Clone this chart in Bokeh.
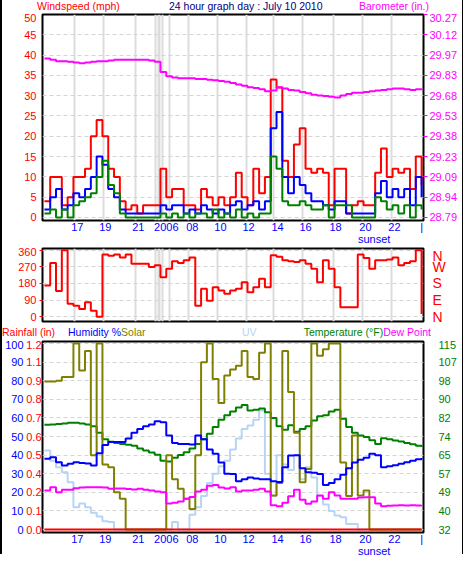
from bokeh.plotting import figure
from bokeh.models import Range1d, LinearAxis, FixedTicker, PrintfTickFormatter, Div
from bokeh.layouts import column, row
from bokeh.embed import file_html
from bokeh.resources import INLINE

# ---------------- data (one reading per time slot) ----------------
slot = list(range(66))

hour_ticks = [5.67, 10.5, 16.17, 21.0, 25.5, 30.33, 35.17, 40.17, 45.0, 50.17, 55.33, 60.33, 65.0]
hour_labels = ["17", "19", "21", "2006", "08", "10", "12", "14", "16", "18", "20", "22", "|"]
gridline_slots = [5.17, 10.17, 15.67, 19.17, 19.67, 19.83, 20.33, 21.5, 24.83, 29.83, 34.83,
                  39.5, 44.5, 49.83, 54.83, 59.83]
sunset_slot = 56.83

wind_gust = [4, 10, 10, 3, 5, 10, 10, 12, 20, 24,
             20, 12, 10, 4, 2, 3, 1, 3, 3, 3,
             12, 5, 7, 7, 3, 3, 2, 7, 5, 3,
             5, 3, 5, 11, 5, 3, 12, 6, 10, 34,
             32, 14, 10, 18, 22, 12, 11, 12, 11, 3,
             12, 12, 1, 3, 4, 3, 3, 11, 17, 10,
             12, 11, 12, 7, 15, 8]
wind_avg = [2, 5, 7, 2, 3, 6, 5, 7, 10, 15,
            13, 7, 5, 2, 1, 1, 1, 1, 1, 1,
            3, 2, 3, 3, 1, 2, 1, 3, 2, 1,
            2, 1, 3, 4, 2, 3, 4, 2, 4, 22,
            26, 10, 6, 10, 8, 6, 4, 4, 3, 2,
            4, 4, 1, 1, 1, 1, 1, 6, 9, 5,
            7, 5, 7, 3, 10, 5]
wind_low = [1, 2, 0, 2, 0, 3, 4, 5, 6, 10,
            14, 8, 6, 1, 0, 0, 0, 0, 0, 0,
            1, 0, 1, 0, 1, 0, 1, 1, 0, 2,
            0, 1, 0, 2, 0, 1, 0, 1, 1, 15,
            12, 4, 3, 3, 4, 3, 2, 2, 3, 0,
            3, 3, 3, 0, 0, 0, 0, 5, 4, 2,
            3, 1, 3, 0, 3, 2]
baro_in = [29.95, 29.94, 29.93, 29.93, 29.925, 29.92, 29.915, 29.92, 29.925, 29.93,
           29.93, 29.935, 29.94, 29.94, 29.94, 29.94, 29.94, 29.94, 29.935, 29.925,
           29.85, 29.82, 29.81, 29.805, 29.805, 29.805, 29.80, 29.80, 29.795, 29.79,
           29.785, 29.78, 29.77, 29.76, 29.75, 29.74, 29.735, 29.725, 29.71, 29.715,
           29.74, 29.73, 29.72, 29.715, 29.705, 29.695, 29.685, 29.68, 29.675, 29.67,
           29.665, 29.68, 29.69, 29.70, 29.70, 29.705, 29.71, 29.715, 29.72, 29.725,
           29.73, 29.73, 29.725, 29.72, 29.725, 29.73]
wind_dir = [169, 290, 140, 360, 70, 60, 42, 78, 33, 0,
            336, 330, 336, 320, 336, 287, 287, 287, 269, 278,
            214, 260, 300, 290, 305, 320, 60, 151, 87, 160,
            142, 124, 142, 151, 187, 133, 160, 205, 160, 333,
            324, 305, 300, 296, 305, 287, 260, 187, 305, 260,
            160, 51, 51, 51, 336, 318, 260, 305, 305, 310,
            320, 278, 290, 300, 360, 15]
temp_f = [78.7, 78.9, 79.1, 79.3, 79.6, 79.6, 79.3, 78.9, 78.1, 75.2,
          72.3, 71.2, 70.6, 70.2, 69.8, 69.4, 68.2, 67.3, 66.4, 65.4,
          62.7, 62.3, 64.0, 65.2, 66.5, 68.1, 70.2, 72.3, 74.7, 77.7,
          81.0, 83.0, 84.7, 86.4, 87.6, 85.1, 85.5, 86.0, 84.3, 81.8,
          78.1, 76.5, 78.5, 75.6, 76.8, 78.1, 80.6, 82.5, 83.0, 84.7,
          85.5, 81.4, 77.7, 75.2, 73.9, 73.3, 71.8, 70.2, 72.7, 72.3,
          71.7, 71.3, 70.6, 70.0, 69.4, 68.8]
dew_f = [49.4, 50.9, 48.6, 49.8, 49.8, 50.4, 50.7, 50.9, 50.9, 50.9,
         50.7, 50.2, 50.3, 50.3, 50.1, 49.9, 50.2, 49.8, 49.4, 49.0,
         48.6, 43.6, 44.0, 44.5, 45.7, 46.5, 49.0, 49.8, 51.5, 51.9,
         50.7, 50.3, 50.9, 49.0, 49.4, 49.4, 49.8, 50.2, 49.0, 42.8,
         42.4, 44.0, 46.9, 49.8, 45.3, 43.5, 44.5, 47.2, 45.7, 48.6,
         47.2, 45.7, 45.7, 45.7, 46.3, 46.4, 46.4, 43.6, 42.4, 42.6,
         42.7, 42.8, 42.7, 42.8, 42.7, 42.8]
humidity = [38, 38.9, 36.2, 34.4, 35.3, 36.2, 35.8, 35.5, 34.4, 41,
            45.5, 47, 47, 47, 49, 52, 54, 55.5, 56.5, 58.2,
            57.7, 50.5, 46.5, 46, 46, 45.7, 50.5, 48.5, 43, 40.7,
            36, 30, 29.9, 26, 27, 28, 27.5, 27, 27, 26,
            25.5, 33.5, 39.8, 40, 33, 30.8, 30.5, 29.9, 24, 25,
            27, 29.5, 33, 36, 37.5, 38.6, 40.7, 40, 33.5, 34,
            34.6, 35.4, 36.2, 37, 37.8, 38.4]
solar_wm2 = [796, 796, 800, 820, 820, 1000, 855, 960, 400, 1000,
             350, 335, 200, 165, 0, 0, 0, 0, 0, 0,
             0, 400, 270, 219, 165, 110, 400, 900, 1000, 810,
             680, 828, 860, 880, 960, 820, 810, 950, 1000, 183,
             250, 960, 740, 520, 254, 326, 1000, 935, 970, 1000,
             1000, 360, 180, 505, 183, 210, 0, 0, 0, 0,
             0, 0, 0, 0, 0, 0]
uv_index = [4.25, 3.7, 3.35, 3.08, 2.54, 1.2, 1.4, 1.2, 0.9, 0.7,
            0.45, 0.4, 0, 0, 0, 0, 0, 0, 0, 0,
            0, 0, 0.4, 0, 0, 0.8, 1.2, 1.8, 2.5, 3.0,
            3.4, 3.7, 4.3, 4.9, 5.4, 5.6, 5.9, 6.4, 3.0, 1.8,
            4.0, 3.5, 3.2, 4.0, 2.7, 3.35, 2.8, 1.8, 1.35, 1.0,
            0.75, 0.66, 0.3, 0.3, 0, 0, 0, 0, 0, 0,
            0, 0, 0, 0, 0, 0]
rain_in = [0.0, 0.0, 0.0, 0.0, 0.0, 0.0, 0.0, 0.0, 0.0, 0.0,
           0.0, 0.0, 0.0, 0.0, 0.0, 0.0, 0.0, 0.0, 0.0, 0.0,
           0.0, 0.0, 0.0, 0.0, 0.0, 0.0, 0.0, 0.0, 0.0, 0.0,
           0.0, 0.0, 0.0, 0.0, 0.0, 0.0, 0.0, 0.0, 0.0, 0.0,
           0.0, 0.0, 0.0, 0.0, 0.0, 0.0, 0.0, 0.0, 0.0, 0.0,
           0.0, 0.0, 0.0, 0.0, 0.0, 0.0, 0.0, 0.0, 0.0, 0.0,
           0.0, 0.0, 0.0, 0.0, 0.0, 0.0]

wind_ticks = [0, 5, 10, 15, 20, 25, 30, 35, 40, 45, 50]
baro_ticks = [28.79, 28.938, 29.086, 29.234, 29.382, 29.53, 29.678, 29.826, 29.974, 30.122, 30.27]
dir_ticks = [0, 90, 180, 270, 360]
dir_labels = ["N", "E", "S", "W", "N"]
hum_ticks = [0, 10, 20, 30, 40, 50, 60, 70, 80, 90, 100]
rain_ticks = [0.0, 0.12, 0.24, 0.36, 0.48, 0.6, 0.72, 0.84, 0.96, 1.08, 1.2]
rain_labels = ["0.0", "0.1", "0.2", "0.4", "0.5", "0.6", "0.7", "0.8", "0.9", "1.1", "1.2"]
temp_ticks = [32, 40.3, 48.6, 56.9, 65.2, 73.5, 81.8, 90.1, 98.4, 106.7, 115]

# ---------------- styling ----------------
FONT = "Liberation Sans"
RED = "#ff0000"
BLUE = "#0000ff"
GREEN = "#008000"
MAGENTA = "#ff00ff"
OLIVE = "#808000"
LIGHTBLUE = "#b8d4f4"
NAVY = "#000080"
GRID = "#dcdcdc"
FRAME_W = 381
BORDER_L = 35
BORDER_R = 39
INNER_W = BORDER_L + FRAME_W + BORDER_R


def base_fig(frame_h, top, bottom, y_range, vgrid=True):
    p = figure(frame_width=FRAME_W, frame_height=frame_h,
               min_border_left=BORDER_L, min_border_right=BORDER_R,
               min_border_top=top, min_border_bottom=bottom,
               x_range=Range1d(-0.33, 65.33), y_range=y_range,
               x_axis_location=None, y_axis_location=None,
               output_backend="svg", toolbar_location=None,
               background_fill_color="white", border_fill_color="white")
    p.outline_line_color = "black"
    p.outline_line_width = 2
    if vgrid:
        p.xgrid.ticker = FixedTicker(ticks=gridline_slots)
        p.xgrid.grid_line_color = GRID
        p.xgrid.grid_line_width = 2
    else:
        p.xgrid.grid_line_color = None
    p.ygrid.grid_line_color = "#d4d4d4"
    p.ygrid.grid_line_dash = "4 3"
    return p


def style_axis(ax, color, standoff, size="11px", tick_color=None, tick_out=0):
    ax.axis_line_color = None
    ax.minor_tick_line_color = None
    ax.minor_tick_out = 0
    ax.minor_tick_in = 0
    ax.major_tick_in = 0
    ax.major_tick_out = tick_out
    ax.major_tick_line_color = tick_color
    ax.major_label_text_color = color
    ax.major_label_text_font = FONT
    ax.major_label_text_font_size = size
    ax.major_label_standoff = standoff


def add_time_axes(p):
    ax = LinearAxis(ticker=FixedTicker(ticks=hour_ticks),
                    major_label_overrides=dict(zip(hour_ticks, hour_labels)))
    style_axis(ax, BLUE, 0)
    p.add_layout(ax, "below")
    ax = LinearAxis(ticker=FixedTicker(ticks=[sunset_slot]),
                    major_label_overrides={sunset_slot: "sunset"})
    style_axis(ax, BLUE, -3)
    p.add_layout(ax, "below")


def header(height, spans):
    html = ('<div style="position:relative;width:%dpx;height:%dpx;font-family:\'Liberation Sans\';'
            'font-size:10.5px;line-height:%dpx;white-space:nowrap">' % (INNER_W, height, height))
    html += "".join(spans) + "</div>"
    return Div(text=html, width=INNER_W, height=height, margin=0)


def span(side, pos, parts):
    inner = "".join('<span style="color:%s">%s</span>' % (c, t) for t, c in parts)
    return '<span style="position:absolute;top:0;%s:%dpx">%s</span>' % (side, pos, inner)


# ---------------- panel 1 : wind speed + barometer ----------------
div1 = header(13, [
    span("left", 35, [("Windspeed (mph)", RED)]),
    span("left", 167, [("24 hour graph day : July 10 2010", NAVY)]),
    span("right", 28, [("Barometer (in.)", MAGENTA)]),
])

p1 = base_fig(206, 1, 22, Range1d(-0.74, 50))
p1.ygrid.ticker = FixedTicker(ticks=wind_ticks)
p1.extra_y_ranges = {"baro": Range1d(28.768, 30.27)}

ax = LinearAxis(ticker=FixedTicker(ticks=wind_ticks))
style_axis(ax, RED, 6)
p1.add_layout(ax, "left")
ax = LinearAxis(y_range_name="baro", ticker=FixedTicker(ticks=baro_ticks),
                formatter=PrintfTickFormatter(format="%.2f"))
style_axis(ax, MAGENTA, 2, tick_color=MAGENTA, tick_out=4)
p1.add_layout(ax, "right")
add_time_axes(p1)

p1.step(slot, wind_gust, mode="after", line_color=RED, line_width=2)
p1.step(slot, wind_avg, mode="after", line_color=BLUE, line_width=2)
p1.step(slot, wind_low, mode="after", line_color=GREEN, line_width=2)
p1.step(slot, baro_in, mode="after", line_color=MAGENTA, line_width=2, y_range_name="baro")

# ---------------- panel 2 : wind direction ----------------
p2 = base_fig(73, 1, 4, Range1d(-25.5, 369))
p2.ygrid.ticker = FixedTicker(ticks=dir_ticks)
ax = LinearAxis(ticker=FixedTicker(ticks=dir_ticks))
style_axis(ax, RED, 3, tick_color=RED, tick_out=3)
p2.add_layout(ax, "left")
ax = LinearAxis(ticker=FixedTicker(ticks=dir_ticks),
                major_label_overrides=dict(zip(dir_ticks, dir_labels)))
style_axis(ax, RED, 9, size="14px")
p2.add_layout(ax, "right")
p2.step(slot, wind_dir, mode="after", line_color=RED, line_width=2)

# ---------------- panel 3 : rain, humidity, solar, UV, temperature, dew point ----------------
div3 = header(15, [
    span("left", 0, [("Rainfall (in)", RED)]),
    span("left", 66, [("Humidity %", BLUE), ("Solar", OLIVE)]),
    span("left", 240, [("UV", LIGHTBLUE)]),
    span("right", 26, [("Temperature (\u00b0F)", GREEN), ("Dew Point", MAGENTA)]),
])

p3 = base_fig(191, 1, 27, Range1d(-1.6, 101.1), vgrid=False)
p3.ygrid.ticker = FixedTicker(ticks=hum_ticks)
p3.extra_y_ranges = {"rain": Range1d(-0.0192, 1.2132),
                     "temp": Range1d(30.67, 115.9),
                     "solar": Range1d(-16, 1011),
                     "uv": Range1d(-0.16, 10.11)}

ax = LinearAxis(y_range_name="rain", ticker=FixedTicker(ticks=rain_ticks),
                major_label_overrides=dict(zip(rain_ticks, rain_labels)))
style_axis(ax, RED, 1)
p3.add_layout(ax, "left")
ax = LinearAxis(ticker=FixedTicker(ticks=hum_ticks))
style_axis(ax, BLUE, 0)
p3.add_layout(ax, "left")
ax = LinearAxis(y_range_name="temp", ticker=FixedTicker(ticks=temp_ticks),
                formatter=PrintfTickFormatter(format="%.0f"))
style_axis(ax, GREEN, 15)
p3.add_layout(ax, "right")
add_time_axes(p3)

p3.step(slot, uv_index, mode="after", line_color=LIGHTBLUE, line_width=2, y_range_name="uv")
p3.step(slot, temp_f, mode="after", line_color=GREEN, line_width=2, y_range_name="temp")
p3.step(slot, solar_wm2, mode="after", line_color=OLIVE, line_width=2, y_range_name="solar")
p3.step(slot, humidity, mode="after", line_color=BLUE, line_width=2)
p3.step(slot, dew_f, mode="after", line_color=MAGENTA, line_width=2, y_range_name="temp")
p3.step(slot, rain_in, mode="after", line_color=RED, line_width=2, y_range_name="rain")

# ---------------- frame around everything ----------------
inner = column(div1, p1, p2, div3, p3, spacing=0)
H = 554
left_bar = Div(text='<div style="width:2px;height:%dpx;background:#000"></div>' % H,
               width=2, height=H, margin=0)
right_bar = Div(text='<div style="width:1px;height:%dpx;background:#000"></div>' % H,
                width=1, height=H, margin=0)
bottom_bar = Div(text='<div style="width:%dpx;height:2px;background:#000"></div>' % (INNER_W + 3),
                 width=INNER_W + 3, height=2, margin=0)
layout = column(row(left_bar, inner, right_bar, spacing=0), bottom_bar, spacing=0)

open("out.html", "w").write(file_html(layout, INLINE))
